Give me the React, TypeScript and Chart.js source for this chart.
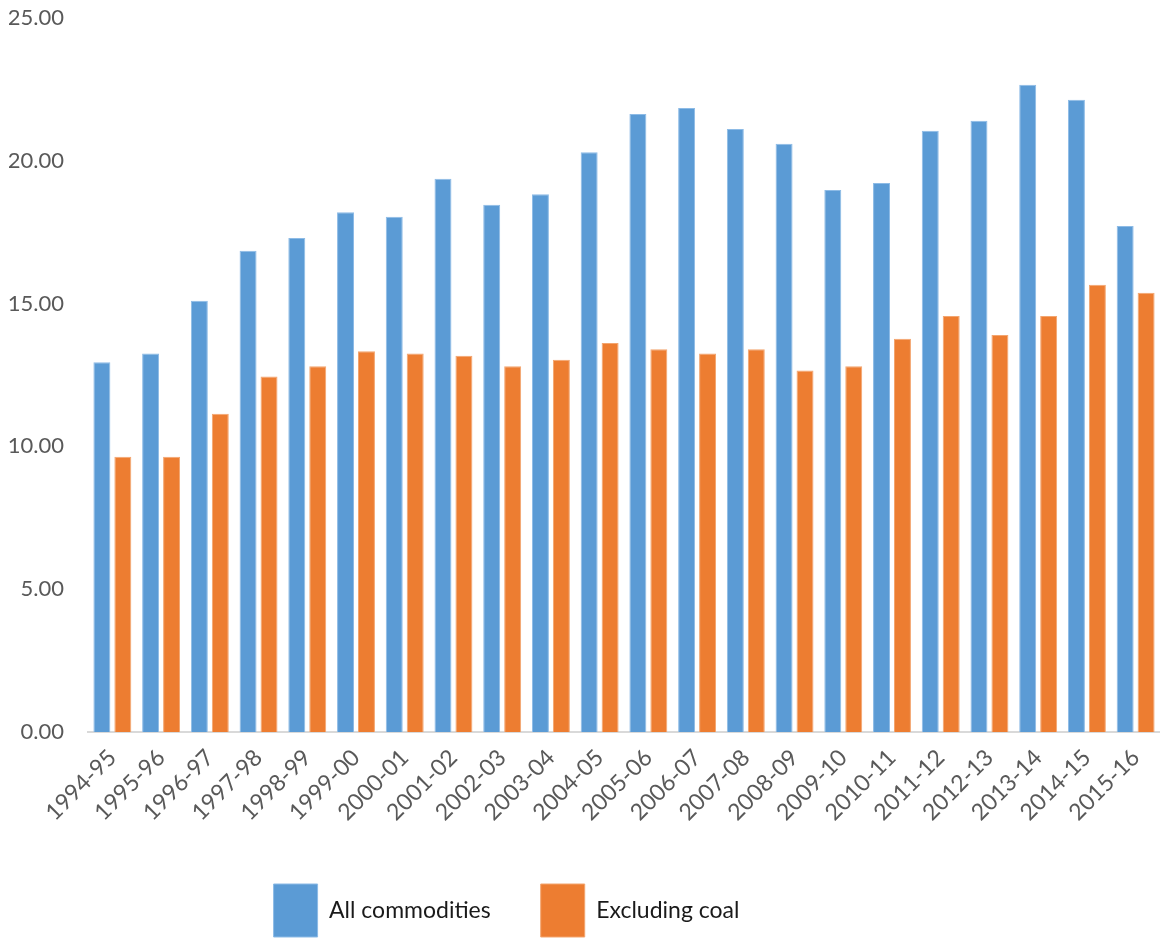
import React, { useEffect, useRef } from "react";
import { Chart, registerables } from "chart.js";

Chart.register(...registerables);

const categories = [
  "1994-95", "1995-96", "1996-97", "1997-98", "1998-99", "1999-00", "2000-01",
  "2001-02", "2002-03", "2003-04", "2004-05", "2005-06", "2006-07", "2007-08",
  "2008-09", "2009-10", "2010-11", "2011-12", "2012-13", "2013-14", "2014-15", "2015-16",
];

const allCommodities = [
  12.95, 13.25, 15.1, 16.85, 17.3, 18.2, 18.04, 19.37, 18.46, 18.83, 20.3,
  21.64, 21.85, 21.11, 20.6, 18.98, 19.22, 21.05, 21.4, 22.66, 22.14, 17.72,
];

const excludingCoal = [
  9.64, 9.64, 11.14, 12.45, 12.81, 13.33, 13.25, 13.17, 12.81, 13.03, 13.62,
  13.4, 13.25, 13.4, 12.66, 12.81, 13.77, 14.57, 13.9, 14.57, 15.66, 15.38,
];

const seriesNames = ["All commodities", "Excluding coal"];
const yTicks = [0, 5, 10, 15, 20, 25];

export default function App() {
  const ref = useRef<HTMLCanvasElement | null>(null);

  useEffect(() => {
    if (!ref.current) return;
    const legendShift = {
      id: "legendShift",
      afterUpdate(chart: any) {
        const lg = chart.legend;
        if (!lg) return;
        lg.left -= 78;
        lg.right -= 78;
        lg.top += 9;
        lg.bottom += 9;
      },
    };
    const chart = new Chart(ref.current, {
      type: "bar",
      data: {
        labels: categories,
        datasets: [
          {
            label: seriesNames[0],
            data: allCommodities,
            backgroundColor: "#5B9BD5",
            borderColor: "#8DBBE6",
            borderWidth: 1,
            barPercentage: 0.81,
            categoryPercentage: 0.86,
          },
          {
            label: seriesNames[1],
            data: excludingCoal,
            backgroundColor: "#ED7D31",
            borderColor: "#F3A56F",
            borderWidth: 1,
            barPercentage: 0.81,
            categoryPercentage: 0.86,
          },
        ],
      },
      plugins: [legendShift],
      options: {
        animation: false,
        responsive: false,
        maintainAspectRatio: false,
        layout: { padding: { left: 9, right: 0, top: 18, bottom: 0 } },
        plugins: {
          tooltip: { enabled: false },
          legend: {
            position: "bottom",
            labels: {
              boxWidth: 44,
              boxHeight: 53,
              padding: 50,
              color: "#1a1a1a",
              font: { family: "Lato", size: 23 },
            },
          },
        },
        scales: {
          x: {
            grid: { display: false },
            border: { display: true, color: "#D9D9D9", width: 2 },
            afterFit: (s: any) => {
              s.paddingLeft = 0;
              s.paddingRight = 0;
              s.height = 93;
            },
            ticks: {
              color: "#595959",
              font: { family: "Lato", size: 23 },
              minRotation: 45,
              maxRotation: 45,
              padding: 4,
              autoSkip: false,
            },
          },
          y: {
            min: 0,
            max: 25,
            afterBuildTicks: (axis: any) => {
              axis.ticks = yTicks.map((v) => ({ value: v }));
            },
            afterFit: (s: any) => {
              s.width = 79;
              s.paddingTop = 0;
              s.paddingBottom = 0;
            },
            grid: { display: false },
            border: { display: false },
            ticks: {
              color: "#595959",
              font: { family: "Lato", size: 22 },
              padding: 16,
              callback: (v: any) => Number(v).toFixed(2),
            },
          },
        },
      },
    });
    return () => chart.destroy();
  }, []);

  return (
    <div style={{ position: "absolute", left: 0, top: 0, width: 1160, height: 938, background: "#fff" }}>
      <canvas ref={ref} width={1160} height={938} style={{ width: 1160, height: 938 }} />
    </div>
  );
}
